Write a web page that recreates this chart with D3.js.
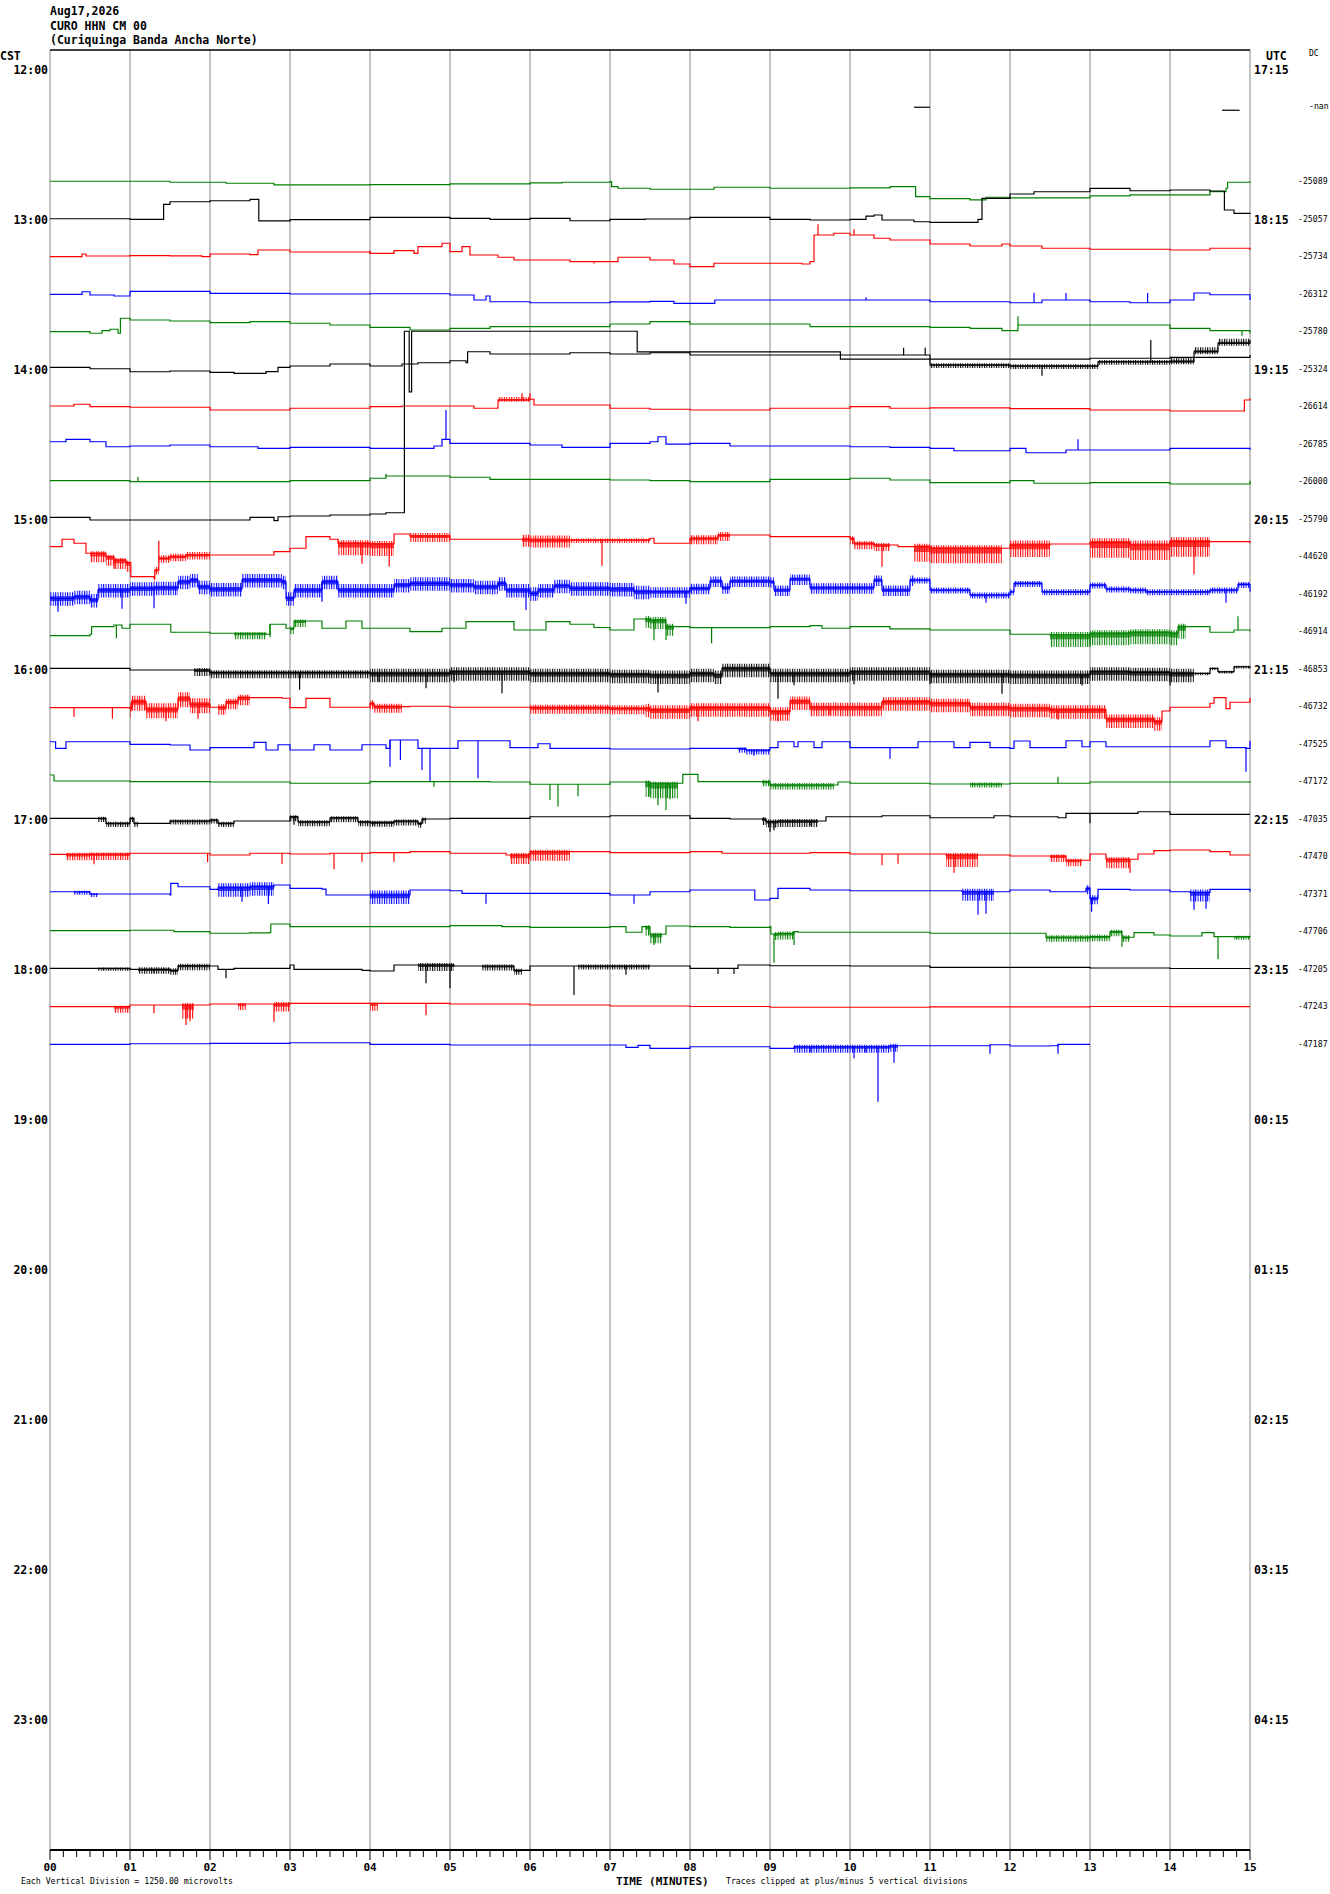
<!DOCTYPE html>
<html>
<head>
<meta charset="utf-8">
<script src="https://cdn.jsdelivr.net/npm/d3@7"></script>
<style>
  body { margin: 0; background: #fff; }
  text { font-family: "DejaVu Sans Mono", monospace; }
</style>
</head>
<body>
<script>
// header / labels
const titleLines = ["Aug17,2026", "CURO HHN CM 00", "(Curiquinga Banda Ancha Norte)"]
const cstLabels = ["12:00", "13:00", "14:00", "15:00", "16:00", "17:00", "18:00", "19:00", "20:00", "21:00", "22:00", "23:00"]
const utcLabels = ["17:15", "18:15", "19:15", "20:15", "21:15", "22:15", "23:15", "00:15", "01:15", "02:15", "03:15", "04:15"]
const minuteLabels = ["00", "01", "02", "03", "04", "05", "06", "07", "08", "09", "10", "11", "12", "13", "14", "15"]
const rowColors = ["black", "red", "blue", "green"]
const dcLabels = [null, "-nan", null, "-25089", "-25057", "-25734", "-26312", "-25780", "-25324", "-26614", "-26785",
  "-26000", "-25790", "-44620", "-46192", "-46914", "-46853", "-46732", "-47525", "-47172", "-47035", "-47470",
  "-47371", "-47706", "-47205", "-47243", "-47187"]
const microvoltsPerDivision = 1250
const clipDivisions = 5

// row 1 only has two short pieces of data
const nanBits = [[10.8, 11.0, -33], [14.65, 14.87, -133]]

// trace levels per row: [minute, microvolts]
const levels = [
  [], [], [],
  // 12:45
  [[0, 0], [1, 0], [1.5, -33], [1.9, -33], [2.2, -67], [2.8, -123], [4, -113], [5, -90], [6, -57], [6.4, -33], [7, -13], [7.02, -180], [7.1, -233], [7.5, -267], [8, -267], [8.3, -200], [9, -233], [10, -223], [10.5, -180], [10.8, -180], [10.82, -513], [11, -580], [11.5, -623], [11.7, -533], [12, -557], [13, -490], [13.5, -457], [14, -457], [14.5, -347], [14.7, -233], [14.72, -33], [15, 0]],
  // 13:00
  [[0, 0], [1, -20], [1.41, -20], [1.42, 480], [1.5, 567], [2, 600], [2.5, 647], [2.6, 647], [2.61, -73], [3, -30], [4, 47], [5, 13], [5.5, -20], [6, 13], [6.5, -67], [7, -20], [7.44, -8], [8, 47], [9, -20], [9.5, -42], [10, -20], [10.2, 90], [10.3, 125], [10.4, -42], [10.8, -100], [11, -120], [11.6, -20], [11.65, 680], [12, 825], [12.3, 900], [13, 1013], [13.5, 933], [14, 958], [14.5, 925], [14.67, 925], [14.68, 292], [14.8, 180], [15, 158]],
  // 13:15
  [[0, -13], [0.4, 75], [0.45, 8], [1, 20], [1.5, 13], [1.9, -13], [2, 75], [2.5, 53], [2.6, 208], [3, 142], [4, 97], [4.3, 187], [4.55, 97], [4.6, 320], [4.9, 433], [5.0, 153], [5.15, 320], [5.25, 42], [5.6, -33], [5.8, -125], [6.5, -180], [7, -180], [7.1, -33], [7.5, -125], [7.8, -258], [8, -347], [8.3, -233], [9, -233], [9.4, -258], [9.5, -180], [9.55, 708], [9.8, 767], [10, 708], [10.3, 600], [10.5, 542], [11, 408], [11.5, 342], [11.9, 408], [12, 342], [12.4, 267], [13, 233], [14, 208], [14.5, 267], [15, 208]],
  // 13:30
  [[0, -20], [0.4, 67], [0.5, -42], [0.8, -75], [1, 80], [1.5, 80], [2, 13], [3, -8], [4, 0], [5, -42], [5.3, -208], [5.45, -75], [5.5, -267], [6, -300], [7, -270], [7.5, -253], [7.8, -320], [8.3, -320], [8.31, -208], [9, -208], [10, -208], [11, -267], [12, -300], [12.4, -208], [13, -267], [13.5, -300], [14, -208], [14.3, 25], [14.5, -33], [15, -208]],
  // 13:45
  [[0, -13], [0.5, -67], [0.65, 20], [0.75, 67], [0.85, -67], [0.88, 433], [1, 375], [1.5, 342], [2, 287], [2.5, 320], [3, 267], [3.5, 208], [4, 130], [4.5, 42], [5, 97], [5.5, 153], [6, 153], [7, 242], [7.5, 320], [8, 242], [9, 242], [9.5, 153], [10, 153], [11, 130], [11.5, 97], [11.9, 20], [12.1, 208], [12.5, 208], [13, 208], [14, 97], [14.5, 20], [15, -67]],
  // 14:00
  [[0, 47], [0.5, 0], [1, -100], [1.5, -75], [2, -120], [2.3, -153], [2.7, -97], [2.85, 47], [3, 92], [3.5, 158], [4, 92], [4.4, 158], [4.6, 200], [5, 267], [5.2, 200], [5.22, 567], [5.5, 492], [6, 492], [6.5, 533], [7, 492], [7.5, 533], [8, 458], [9, 458], [10, 458], [10.97, 458], [11, 125], [12, 92], [13, 92], [13.1, 233], [14, 233], [14.3, 567], [14.6, 850], [15, 958]],
  // 14:15
  [[0, 8], [0.3, 67], [0.5, -13], [1, -33], [2, -125], [3, -67], [4, -13], [4.4, 8], [5, 8], [5.3, -67], [5.6, 208], [6.0, 233], [6.05, 42], [7, -67], [7.5, -100], [8, -125], [9, -67], [10, -13], [10.5, -67], [11, -53], [12, -80], [13, -125], [14, -158], [14.9, -158], [14.93, 208], [15, 267]],
  // 14:30
  [[0, 67], [0.2, 147], [0.5, 67], [0.7, -100], [1, -75], [1.5, -42], [2, -100], [2.6, -153], [3, -120], [4, -153], [4.5, -153], [4.8, -75], [4.9, 147], [5.0, 13], [6, -42], [6.4, -120], [7, 13], [7.5, 67], [7.6, 233], [7.7, -13], [8, 13], [8.5, -75], [9, -75], [10, -100], [10.5, -120], [11, -153], [11.3, -233], [12, -153], [12.2, -300], [12.7, -208], [13, -208], [14, -153], [14.9, -153], [15, -208]],
  // 14:45
  [[0, 20], [1, -13], [2, -13], [3, 20], [4, 100], [4.2, 175], [5, 133], [5.5, 63], [7, 42], [7.5, 20], [8, -13], [9, 63], [10, 100], [10.5, 42], [11, -47], [12, 20], [12.3, -67], [13, -47], [14, -92], [15, 13]],
  // 15:00
  [[0, 47], [0.5, -42], [2, -42], [2.5, 47], [2.8, -63], [2.85, 67], [3, 92], [3.5, 125], [4, 158], [4.2, 200], [4.42, 200], [4.43, 6250], [4.48, 6250], [4.49, 4230], [4.51, 4230], [4.52, 6250], [7.33, 6250], [7.34, 5560], [9.87, 5560], [9.88, 5320], [12, 5320], [13, 5350], [14, 5380], [15, 5460]],
  // 15:15
  [[0, 320], [0.15, 567], [0.3, 433], [0.45, 100], [0.7, -13], [0.8, -125], [0.95, -213], [1.0, -213], [1.01, -680], [1.3, -733], [1.31, -458], [1.36, -67], [1.5, -13], [1.7, 42], [2, 42], [2.5, 42], [2.8, 153], [3, 267], [3.2, 653], [3.5, 567], [3.6, 433], [4, 408], [4.3, 742], [4.5, 675], [5, 567], [6, 542], [7, 542], [7.5, 600], [7.55, 433], [8, 600], [8.35, 708], [9, 653], [10, 600], [10.05, 433], [10.3, 375], [10.6, 320], [11, 267], [12, 375], [12.5, 408], [13, 453], [13.5, 375], [14, 487], [14.5, 487], [15, 433]],
  // 15:30
  [[0, -153], [0.3, -100], [0.5, -208], [0.6, 125], [1, 180], [1.3, 200], [1.6, 400], [1.75, 458], [1.85, 233], [2, 158], [2.4, 458], [2.9, 400], [2.95, -153], [3.05, 125], [3.4, 400], [3.6, 125], [4, 125], [4.3, 292], [4.5, 347], [5, 292], [5.3, 233], [5.6, 347], [5.7, 125], [6, 13], [6.1, 125], [6.3, 267], [6.5, 180], [7, 158], [7.3, 67], [7.5, 67], [8, 180], [8.25, 425], [8.4, 200], [8.5, 425], [9, 400], [9.05, 125], [9.25, 492], [9.5, 200], [10, 200], [10.3, 458], [10.4, 125], [10.7, 125], [10.75, 458], [11, 125], [11.5, -42], [12, 67], [12.05, 347], [12.4, 67], [13, 292], [13.2, 158], [13.5, 125], [13.7, 67], [14, 67], [14.5, 125], [14.85, 313], [15, 67]],
  // 15:45
  [[0, -147], [0.5, -100], [0.52, 153], [0.8, 208], [0.9, 100], [1, 233], [1.5, 233], [1.51, -33], [2, -67], [2.7, -100], [2.75, 233], [2.95, 100], [3.05, 342], [3.4, 100], [3.7, 342], [3.9, 100], [4.5, -13], [4.9, 100], [5.2, 320], [5.8, 42], [6, 42], [6.2, 320], [6.5, 233], [6.8, 125], [7, 42], [7.3, 408], [7.5, 375], [7.7, 153], [8, 120], [9, 153], [9.5, 187], [9.65, 100], [10, 153], [10.5, 80], [11, 42], [12, -100], [12.5, -125], [13, -67], [13.5, -33], [14, -67], [14.1, 153], [14.5, -33], [14.8, 42], [15, 0]],
  // 16:00
  [[0, 13], [1, -42], [2, -120], [3, -120], [4, -153], [5, -100], [6, -153], [7, -187], [7.5, -208], [8, -153], [8.3, -208], [8.4, 13], [9, -153], [10, -100], [11, -187], [12, -208], [13, -100], [13.5, -120], [14, -153], [14.5, 13], [14.6, -100], [14.8, 67], [15, 13]],
  // 16:15
  [[0, -47], [1, -80], [1.02, 153], [1.2, -100], [1.6, 267], [1.75, 67], [2, -33], [2.2, 153], [2.35, 287], [2.9, 267], [3.0, -47], [3.2, 263], [3.5, -33], [4, 100], [4.05, -13], [4.5, 0], [5, -33], [6, -47], [7, -67], [7.5, -120], [8, -47], [9, -180], [9.25, 175], [9.5, -33], [10, -33], [10.4, 153], [11, 100], [11.5, -33], [12, -67], [12.5, -120], [13, -120], [13.2, -425], [13.8, -513], [13.9, -158], [14, -33], [14.5, 100], [14.55, 287], [14.7, -80], [14.75, 133], [15, 287]],
  // 16:30
  [[0, 67], [0.07, -153], [0.2, 67], [1, -20], [1.5, -42], [1.75, -208], [2, -130], [2.5, -130], [2.55, 47], [2.7, -208], [2.85, -33], [3, -208], [3.3, -33], [3.5, -208], [3.9, -33], [4.2, -153], [4.25, 125], [4.6, -153], [5.1, 100], [5.75, -130], [6.1, 0], [6.25, -153], [7, -175], [7.5, -175], [8, -153], [8.7, -208], [9, -130], [9.1, 67], [9.3, -100], [9.35, 67], [9.55, -130], [9.65, 67], [10, -130], [10.6, -130], [10.85, 67], [11.3, -130], [11.5, 47], [11.75, -130], [12, -153], [12.05, 92], [12.25, -130], [12.7, 100], [12.9, -100], [13, 67], [13.2, -100], [14, -100], [14.5, 100], [14.7, -130], [14.95, -153], [15, 100]],
  // 16:45
  [[0, 208], [0.05, 8], [1, -13], [2, -25], [3, -67], [4, -13], [5, -13], [5.5, -25], [6, -100], [7, -25], [7.5, -67], [7.9, -67], [7.91, 230], [8.1, -13], [9, -125], [9.5, -125], [9.85, -25], [10, -67], [11, -92], [12, -67], [12.6, -67], [13, -25], [14, -25], [15, 8]],
  // 17:00
  [[0, 13], [0.5, 13], [0.7, -153], [1, 13], [1.05, -153], [1.5, -75], [2, -42], [2.1, -153], [2.3, -75], [3, 67], [3.1, -100], [3.5, 33], [3.85, -100], [4.0, -120], [4.3, -75], [4.6, -153], [4.65, -8], [5, 13], [6, 67], [7, 100], [7.5, 100], [8, 13], [8.5, -8], [8.95, -92], [9.1, -75], [9.5, -75], [9.7, 67], [10, 67], [10.4, 100], [11, 33], [11.8, 100], [12, 67], [12.6, 33], [12.7, 180], [13, 180], [13.6, 233], [14, 147], [15, 147]],
  // 17:15
  [[0, 63], [0.5, 75], [1, 100], [2, 42], [2.5, 100], [3, 75], [3.5, 100], [4, 120], [4.5, 153], [5, 100], [5.5, 100], [5.7, 42], [6, 153], [7, 120], [7.44, 120], [8, 153], [8.4, 100], [9, 100], [9.5, 120], [10, 75], [11, 75], [11.2, 42], [12, 8], [12.5, 8], [12.7, -133], [13, 75], [13.2, -100], [13.6, 75], [13.8, 187], [14, 208], [14.5, 153], [14.75, 42], [15, 42]],
  // 17:30
  [[0, 67], [0.5, -8], [1, -8], [1.5, -42], [1.51, 347], [1.6, 233], [2, 147], [2.1, 200], [2.5, 233], [2.8, 292], [3, 180], [3.4, 153], [3.45, -42], [4, -42], [4.5, 125], [5, 100], [5.15, 13], [6, 13], [7, -42], [7.5, 67], [8, 125], [8.8, 125], [8.81, -208], [9.0, -153], [9.1, 180], [9.5, 125], [10, 100], [11, 100], [11.4, 67], [12, 125], [12.5, 67], [12.95, 180], [13, -153], [13.1, 147], [13.5, 125], [14, 67], [14.25, 42], [14.5, 147], [15, 67]],
  // 17:45
  [[0, 20], [1, 33], [1.5, 33], [1.55, -13], [2, -67], [2.5, -53], [2.75, -33], [2.76, 242], [3, 153], [4, 153], [5, 187], [5.65, 153], [6, 130], [7, 153], [7.2, -33], [7.4, 153], [7.5, -100], [7.7, 175], [8, 153], [8.5, 130], [9, 153], [9.01, -92], [9.1, -75], [9.3, -13], [9.35, -33], [10, -33], [11, -67], [12, -67], [12.45, -200], [13, -180], [13.25, -13], [13.4, -200], [13.55, -47], [13.8, -125], [14, -158], [14.4, -47], [14.55, -180], [15, -158]],
  // 18:00
  [[0, 13], [1, -20], [1.5, -53], [1.6, 100], [2, 92], [2.1, -20], [2.3, 13], [3, 125], [3.05, -20], [3.9, -53], [4.0, -75], [4.3, 125], [4.6, 125], [5.05, 92], [5.5, 92], [5.8, -53], [6, 92], [7, 92], [7.5, 92], [8, 13], [8.35, 13], [8.6, 125], [9, 100], [10, 92], [11, 47], [12, 47], [13, 25], [14, 8], [15, -20]],
  // 18:15
  [[0, -13], [1, 42], [2, 75], [3, 97], [4, 97], [5, 75], [6, 42], [7, 8], [8, -8], [9, -33], [10, -33], [11, -20], [12, -20], [13, -8], [14, -13], [15, -13]],
  // 18:30
  [[0, -20], [1, 0], [2, 13], [3, 33], [4, -20], [5, -42], [6, -42], [7, -42], [7.2, -120], [7.35, -53], [7.5, -153], [8, -100], [9, -153], [9.3, -100], [10, -100], [10.5, -67], [11, -67], [11.75, -33], [12, -75], [12.5, -67], [12.6, -20], [13, -20]]
]

// single spikes per row: [minute, tip microvolts]
const spikes = [
  [], [], [], [],
  [],
  [[9.6, 1067], [10.05, 900], [6.8, -240], [4.0, 180]],
  [[10.2, -120], [12.3, 33], [12.7, 25], [13.72, 25]],
  [[12.1, 500], [14.9, -150]],
  [[10.67, 700], [10.94, 700], [13.76, 958], [12.4, -230]],
  [[5.9, 433], [6.0, 433]],
  [[4.95, 1125], [12.85, 150]],
  [[1.1, 153], [4.2, 250]],
  [],
  [[1.36, 520], [4.24, -340], [0.8, -420], [3.9, -250], [6.9, -320], [14.3, -600], [10.4, -350]],
  [[0.1, -600], [0.9, -500], [1.3, -480], [3.4, -270], [5.95, -540], [7.95, -330], [11.7, -300], [14.7, -300]],
  [[0.83, -233], [2.75, -200], [7.55, -300], [7.7, -290], [8.27, -400], [13.0, -513], [14.85, 500]],
  [[3.12, -700], [4.1, -430], [4.7, -650], [5.05, -450], [5.65, -820], [7.6, -790], [9.1, -1000], [9.3, -550], [10.05, -520], [11.0, -520], [11.9, -830], [12.9, -560], [14.0, -560]],
  [[0.3, -350], [0.78, -420], [1.45, -500], [1.85, -420], [8.1, -500], [9.1, -500], [9.75, -300], [12.6, -450]],
  [[4.25, -767], [4.38, -540], [4.65, -875], [4.75, -1267], [5.35, -1153], [8.8, -400], [10.5, -500], [14.95, -930]],
  [[4.8, -180], [6.25, -625], [6.35, -845], [6.6, -500], [7.5, -500], [7.6, -800], [7.7, -958], [7.75, -600], [12.6, 153]],
  [[3.05, -200], [4.05, -200], [9.0, -433], [9.05, -380], [9.5, -230], [13.0, -150]],
  [[0.55, -270], [1.97, -200], [2.9, -260], [3.55, -433], [3.9, -180], [4.3, -180], [10.4, -300], [10.6, -250], [11.3, -550], [13.5, -550]],
  [[2.4, -270], [2.73, -342], [5.45, -333], [7.3, -333], [11.6, -700], [11.7, -670], [13.02, -600], [14.3, -530], [14.45, -500]],
  [[7.55, -458], [9.05, -1050], [9.3, -458], [13.4, -513], [14.6, -933]],
  [[1.3, -150], [2.2, -320], [4.7, -487], [5.0, -653], [6.55, -875], [7.2, -200], [8.35, -175], [8.55, -175]],
  [[1.3, -233], [1.7, -625], [1.75, -500], [2.8, -513], [4.7, -300]],
  [[9.5, -300], [10.05, -487], [10.2, -300], [10.35, -1933], [10.55, -633], [11.75, -333], [12.6, -330]]
]

// noisy stretches per row: [from minute, to minute, microvolts up, microvolts down]
const noise = [
  [], [], [], [], [], [], [], [],
  [[11, 14, 60, 100], [14, 15, 150, 80]],
  [[5.6, 6.0, 100, 60]],
  [],
  [],
  [],
  [[0.5, 1.0, 67, 300], [1.3, 2.0, 100, 150], [3.6, 4.3, 100, 400], [4.5, 5.0, 100, 200], [5.9, 6.5, 150, 250], [6.5, 7.5, 50, 100], [8, 8.5, 100, 200], [10, 10.5, 67, 200], [10.8, 11.9, 100, 500], [12, 12.5, 150, 400], [13, 14.5, 150, 500]],
  [[0, 7.5, 200, 250], [7.5, 10.8, 150, 200], [10.8, 15, 80, 120]],
  [[2.3, 2.7, 30, 200], [3.0, 3.2, 50, 200], [7.44, 7.8, 100, 300], [12.5, 14.2, 100, 400]],
  [[1.8, 4, 67, 200], [4, 14.3, 150, 300], [14.3, 15, 30, 60]],
  [[1.0, 2.0, 200, 300], [2.1, 2.5, 100, 250], [4.0, 4.4, 100, 200], [6.0, 7.44, 100, 200], [7.44, 13.9, 150, 300]],
  [[8.6, 9.0, 30, 150]],
  [[7.44, 7.85, 50, 500], [8.9, 9.8, 67, 150], [11.5, 11.9, 50, 120]],
  [[0.6, 1.1, 50, 120], [1.5, 2.3, 50, 120], [3.0, 4.7, 50, 150], [8.9, 9.6, 67, 200]],
  [[0.2, 1.0, 50, 200], [5.75, 6.5, 67, 300], [11.2, 11.6, 67, 400], [12.5, 12.9, 50, 200], [13.2, 13.5, 67, 300]],
  [[0.3, 0.6, 30, 100], [2.1, 2.8, 150, 300], [4.0, 4.5, 150, 300], [11.4, 11.8, 100, 300], [12.95, 13.1, 100, 200], [14.25, 14.5, 100, 300]],
  [[7.44, 7.65, 50, 300], [9.05, 9.3, 67, 200], [12.45, 13.5, 67, 150], [14.8, 15, 30, 100]],
  [[0.6, 1.0, 30, 80], [1.1, 2.0, 67, 150], [4.6, 5.05, 67, 200], [5.4, 5.9, 50, 150], [6.6, 7.5, 50, 120]],
  [[0.8, 1.0, 30, 200], [1.65, 1.8, 67, 450], [2.35, 2.45, 30, 200], [2.8, 3.0, 67, 250], [4.0, 4.1, 30, 250]],
  [[9.3, 10.6, 67, 200]]
]

const width = 1330
const height = 1894
const plotLeft = 50, plotRight = 1250, plotTop = 50, plotBottom = 1850
const rowHeight = 37.5

const svg = d3.select('body')
  .append('svg')
  .attr('width', width)
  .attr('height', height)

svg.append('rect').attr('width', width).attr('height', height).attr('fill', 'white')

// hairline fill used for the noisy parts of a trace
const defs = svg.append('defs')
rowColors.forEach(c => {
  const p = defs.append('pattern')
    .attr('id', 'hair-' + c)
    .attr('width', 2.4).attr('height', 12)
    .attr('patternUnits', 'userSpaceOnUse')
  p.append('rect').attr('width', 1).attr('height', 12).attr('fill', c)
})

const x = d3.scaleLinear().domain([0, 15]).range([plotLeft, plotRight])

function rowCenter(r) { return plotTop + rowHeight / 2 + r * rowHeight }

//microvolts -> pixels for one row, clipped at +/- 5 divisions
function rowScale(r) {
  const lim = clipDivisions * microvoltsPerDivision
  return d3.scaleLinear()
    .domain([-lim, lim])
    .range([rowCenter(r) + clipDivisions * rowHeight, rowCenter(r) - clipDivisions * rowHeight])
    .clamp(true)
}

// value held at minute m (traces are drawn as steps)
function levelAt(pts, m) {
  let v = pts[0][1]
  for (const p of pts) {
    if (p[0] <= m) v = p[1]
    else break
  }
  return v
}

// minute gridlines
svg.append('g')
  .selectAll('line')
  .data(d3.range(0, 16))
  .enter().append('line')
  .attr('x1', d => x(d)).attr('x2', d => x(d))
  .attr('y1', plotTop).attr('y2', plotBottom)
  .attr('stroke', '#8a8a8a')
  .attr('stroke-width', 1)

// top border
svg.append('line')
  .attr('x1', plotLeft).attr('x2', plotRight)
  .attr('y1', plotTop).attr('y2', plotTop)
  .attr('stroke', 'black').attr('stroke-width', 1.5)

// header
svg.append('g').selectAll('text')
  .data(titleLines)
  .enter().append('text')
  .attr('x', plotLeft)
  .attr('y', (d, i) => 15 + i * 14.5)
  .attr('font-size', 11.5)
  .attr('font-weight', 'bold')
  .text(d => d)

svg.append('text').attr('x', 0).attr('y', 60).attr('font-size', 11.5).attr('font-weight', 'bold').text('CST')
svg.append('text').attr('x', 1266).attr('y', 60).attr('font-size', 11.5).attr('font-weight', 'bold').text('UTC')
svg.append('text').attr('x', 1309).attr('y', 56).attr('font-size', 8).text('DC')

svg.append('g').selectAll('text')
  .data(cstLabels)
  .enter().append('text')
  .attr('x', 48)
  .attr('y', (d, i) => rowCenter(i * 4) + 5)
  .attr('text-anchor', 'end')
  .attr('font-size', 11.5)
  .attr('font-weight', 'bold')
  .text(d => d)

svg.append('g').selectAll('text')
  .data(utcLabels)
  .enter().append('text')
  .attr('x', 1254)
  .attr('y', (d, i) => rowCenter(i * 4) + 5)
  .attr('font-size', 11.5)
  .attr('font-weight', 'bold')
  .text(d => d)

svg.append('g').selectAll('text')
  .data(dcLabels.map((d, i) => ({ d, i })).filter(o => o.d))
  .enter().append('text')
  .attr('x', o => o.d === '-nan' ? 1309 : 1298)
  .attr('y', o => rowCenter(o.i) + 3)
  .attr('font-size', 8.2)
  .text(o => o.d)

// traces
const traceG = svg.append('g')
levels.forEach((pts, r) => {
  if (!pts.length) return
  const y = rowScale(r)
  const color = rowColors[r % 4]

  // noise envelopes: hairline band plus a denser core
  noise[r].forEach(([m0, m1, up, down]) => {
    const ms = [m0].concat(pts.map(p => p[0]).filter(m => m > m0 && m < m1), [m1])
    const outer = d3.area()
      .curve(d3.curveStepAfter)
      .x(m => x(m))
      .y0(m => y(levelAt(pts, m) - down))
      .y1(m => y(levelAt(pts, m) + up))
    const inner = d3.area()
      .curve(d3.curveStepAfter)
      .x(m => x(m))
      .y0(m => y(levelAt(pts, m) - down * 0.35))
      .y1(m => y(levelAt(pts, m) + up * 0.35))
    traceG.append('path')
      .attr('d', outer(ms))
      .attr('fill', 'url(#hair-' + color + ')')
    traceG.append('path')
      .attr('d', inner(ms))
      .attr('fill', color)
      .attr('fill-opacity', 0.7)
  })

  const line = d3.line().curve(d3.curveStepAfter).x(p => x(p[0])).y(p => y(p[1]))
  traceG.append('path')
    .attr('d', line(pts))
    .attr('fill', 'none')
    .attr('stroke', color)
    .attr('stroke-width', 1.2)

  traceG.selectAll(null)
    .data(spikes[r])
    .enter().append('line')
    .attr('x1', s => x(s[0])).attr('x2', s => x(s[0]))
    .attr('y1', s => y(levelAt(pts, s[0])))
    .attr('y2', s => y(s[1]))
    .attr('stroke', color)
    .attr('stroke-width', 1.2)
})

// the -nan row
const yNan = rowScale(1)
traceG.selectAll(null)
  .data(nanBits)
  .enter().append('line')
  .attr('x1', d => x(d[0])).attr('x2', d => x(d[1]))
  .attr('y1', d => yNan(d[2])).attr('y2', d => yNan(d[2]))
  .attr('stroke', 'black')
  .attr('stroke-width', 1.2)

// time axis
const axis = svg.append('g')
axis.append('line')
  .attr('x1', plotLeft).attr('x2', plotRight)
  .attr('y1', plotBottom).attr('y2', plotBottom)
  .attr('stroke', 'black').attr('stroke-width', 2)
axis.selectAll('line.tick')
  .data(d3.range(0, 91))
  .enter().append('line')
  .attr('class', 'tick')
  .attr('x1', d => x(d / 6)).attr('x2', d => x(d / 6))
  .attr('y1', plotBottom).attr('y2', d => d % 6 === 0 ? plotBottom + 10 : plotBottom + 7)
  .attr('stroke', 'black')
axis.selectAll('text')
  .data(minuteLabels)
  .enter().append('text')
  .attr('x', (d, i) => x(i))
  .attr('y', 1871)
  .attr('text-anchor', 'middle')
  .attr('font-size', 11)
  .attr('font-weight', 'bold')
  .text(d => d)

svg.append('text').attr('x', 616).attr('y', 1885).attr('font-size', 11).attr('font-weight', 'bold').text('TIME (MINUTES)')
svg.append('text').attr('x', 21).attr('y', 1884).attr('font-size', 8.2)
  .text('Each Vertical Division = ' + microvoltsPerDivision.toFixed(2) + ' microvolts')
svg.append('text').attr('x', 726).attr('y', 1884).attr('font-size', 8.2)
  .text('Traces clipped at plus/minus ' + clipDivisions + ' vertical divisions')
</script>
</body>
</html>
